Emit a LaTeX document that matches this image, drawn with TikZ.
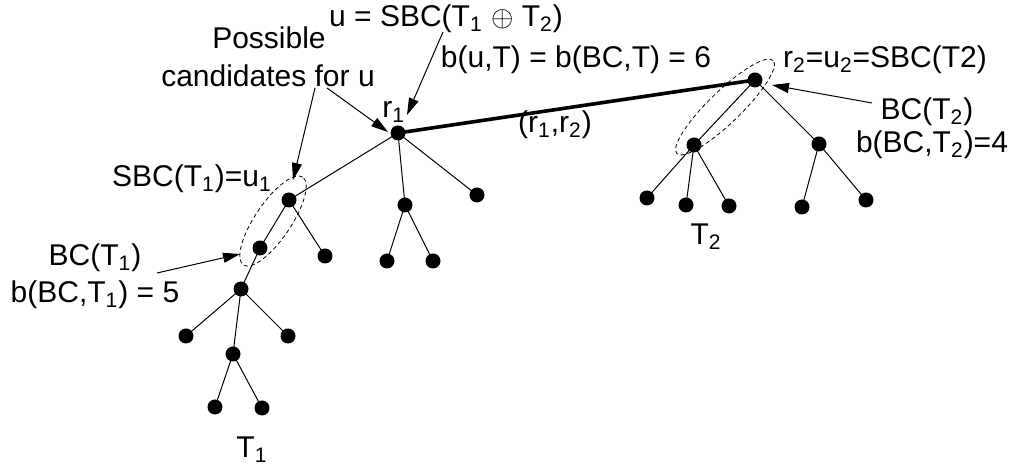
\documentclass[tikz,border=0pt]{standalone}
\usepackage{fontspec}
\setmainfont{Liberation Sans}
\usetikzlibrary{shapes.geometric,arrows.meta}
\begin{document}
\begin{tikzpicture}[x=0.5pt,y=-0.5pt,
  dot/.style={circle,fill=black,inner sep=0pt,minimum size=7.5pt},
  edge/.style={line width=0.5pt},
  heavy/.style={line width=1.8pt},
  lbl/.style={inner sep=0pt,anchor=base,font=\fontsize{15pt}{18pt}\selectfont},
  pointer/.style={line width=0.5pt,-{Triangle[length=8.5pt,width=5pt]}},
  ring/.style={ellipse,draw,dashed,dash pattern=on 2pt off 1.5pt,line width=0.4pt,inner sep=0pt}]
\useasboundingbox (0,0) rectangle (1014,469);
% tree T1
\node[dot] (r1) at (398,133) {};
\node[dot] (u1) at (289,200) {};
\node[dot] (a2) at (405,205) {};
\node[dot] (a3) at (477,195) {};
\node[dot] (b1) at (260,248) {};
\node[dot] (b2) at (325,256) {};
\node[dot] (c1) at (387,261) {};
\node[dot] (c2) at (433,261) {};
\node[dot] (d1) at (241,289) {};
\node[dot] (e1) at (186,336) {};
\node[dot] (e2) at (233,354) {};
\node[dot] (e3) at (288,336) {};
\node[dot] (f1) at (215,407) {};
\node[dot] (f2) at (262,408) {};
% tree T2
\node[dot] (r2) at (755,80) {};
\node[dot] (g1) at (694,145) {};
\node[dot] (g2) at (819,144) {};
\node[dot] (h1) at (647,198) {};
\node[dot] (h2) at (686,205) {};
\node[dot] (h3) at (729,206) {};
\node[dot] (h4) at (802,207) {};
\node[dot] (h5) at (866,200) {};
% edges
\draw[edge] (r1.center) -- (u1.center);
\draw[edge] (r1.center) -- (a2.center);
\draw[edge] (r1.center) -- (a3.center);
\draw[edge] (u1.center) -- (b1.center);
\draw[edge] (u1.center) -- (b2.center);
\draw[edge] (a2.center) -- (c1.center);
\draw[edge] (a2.center) -- (c2.center);
\draw[edge] (b1.center) -- (d1.center);
\draw[edge] (d1.center) -- (e1.center);
\draw[edge] (d1.center) -- (e2.center);
\draw[edge] (d1.center) -- (e3.center);
\draw[edge] (e2.center) -- (f1.center);
\draw[edge] (e2.center) -- (f2.center);
\draw[edge] (r2.center) -- (g1.center);
\draw[edge] (r2.center) -- (g2.center);
\draw[edge] (g1.center) -- (h1.center);
\draw[edge] (g1.center) -- (h2.center);
\draw[edge] (g1.center) -- (h3.center);
\draw[edge] (g2.center) -- (h4.center);
\draw[edge] (g2.center) -- (h5.center);
\draw[heavy] (r1.center) -- (r2.center);
% dashed rings
\node[ring,rotate=56,minimum width=53pt,minimum height=18pt] (bc1) at (273,221) {};
\node[ring,rotate=44,minimum width=67pt,minimum height=16pt] (bc2) at (725,107) {};
% labels
\node[lbl] (top) at (446,27) {u = SBC(T\textsubscript{1} $\oplus$ T\textsubscript{2})};
\node[lbl] (poss) at (269,49) {Possible};
\node[lbl] (cand) at (268,87) {candidates for u};
\node[lbl] (buT) at (576,68) {b(u,T) = b(BC,T) = 6};
\node[lbl,anchor=base west] (lr1) at (382,118) {r\textsubscript{1}};
\node[lbl] (lr12) at (555,133) {(r\textsubscript{1},r\textsubscript{2})};
\node[lbl] (lr2) at (885,68) {r\textsubscript{2}=u\textsubscript{2}=SBC(T2)};
\node[lbl] (bct2) at (927,120) {BC(T\textsubscript{2})};
\node[lbl] (bbt2) at (932,153) {b(BC,T\textsubscript{2})=4};
\node[lbl] (sbc1) at (192,187) {SBC(T\textsubscript{1})=u\textsubscript{1}};
\node[lbl] (bct1) at (95,266) {BC(T\textsubscript{1})};
\node[lbl] (bbt1) at (95,303) {b(BC,T\textsubscript{1}) = 5};
\node[lbl] (t1) at (252,458) {T\textsubscript{1}};
\node[lbl] (t2) at (706,245) {T\textsubscript{2}};
% pointers
\coordinate (p1s) at (443,32);
\coordinate (p1e) at (407,115);
\coordinate (p2s) at (327,88);
\coordinate (p2e) at (388,132);
\coordinate (p3s) at (315,88);
\coordinate (p3e) at (293,180);
\coordinate (p4s) at (157,273);
\coordinate (p4e) at (240,254);
\coordinate (p5s) at (872,103);
\coordinate (p5e) at (772,85);
\draw[pointer] (p1s) -- (p1e);
\draw[pointer] (p2s) -- (p2e);
\draw[pointer] (p3s) -- (p3e);
\draw[pointer] (p4s) -- (p4e);
\draw[pointer] (p5s) -- (p5e);
\end{tikzpicture}
\end{document}
